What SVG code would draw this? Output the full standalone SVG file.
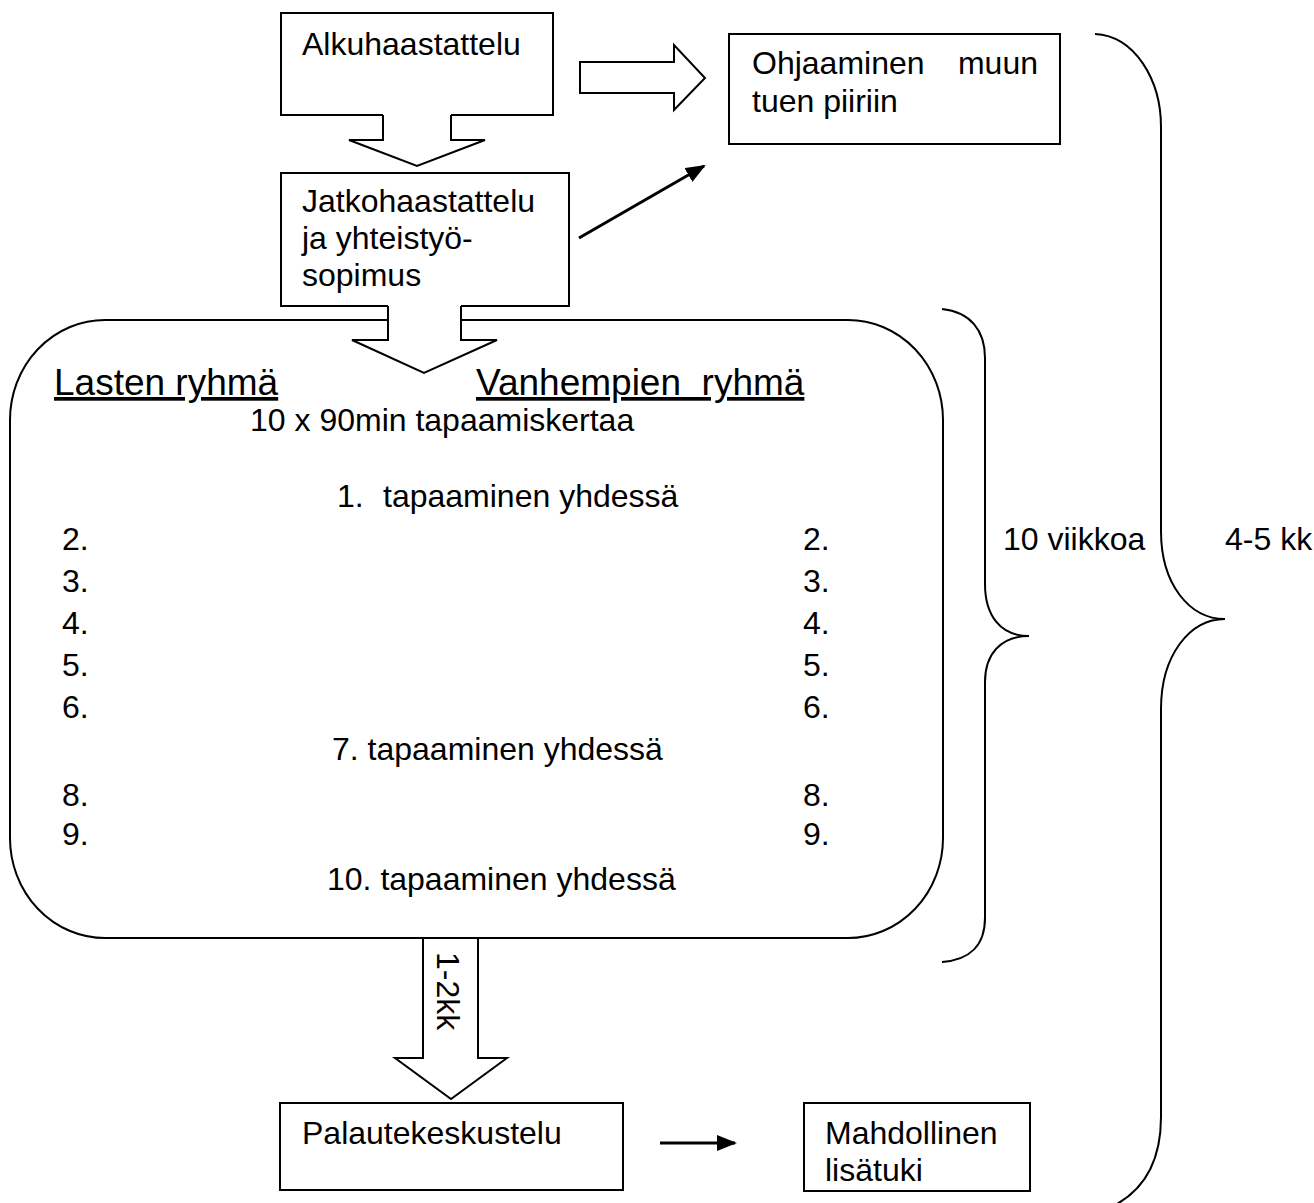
<svg xmlns="http://www.w3.org/2000/svg" width="1314" height="1203" viewBox="0 0 1314 1203">
<style>
text{font-family:"Liberation Sans",Arial,sans-serif;font-size:32px;fill:#000}
.big{font-size:37px;text-decoration:underline;white-space:pre}
.box{fill:#fff;stroke:#000;stroke-width:2}
.ln{fill:none;stroke:#000;stroke-width:2}
.arr{fill:none;stroke:#000;stroke-width:3}
.cover{fill:#fff;stroke:none}
</style>
<defs>
<marker id="ah" markerUnits="userSpaceOnUse" markerWidth="20" markerHeight="16" refX="18" refY="8" orient="auto">
<path d="M0,0 L20,8 L0,16 Z" fill="#000"/>
</marker>
</defs>
<rect width="1314" height="1203" fill="#fff"/>
<g id="alkuhaastattelu">
<rect class="box" x="281" y="13" width="272" height="102"/>
<text x="302" y="55">Alkuhaastattelu</text>
</g>
<g id="ohjaaminen">
<rect class="box" x="729" y="34" width="331" height="110"/>
<text x="752" y="74">Ohjaaminen</text>
<text x="1038" y="74" text-anchor="end">muun</text>
<text x="752" y="112">tuen piiriin</text>
</g>
<g id="jatkohaastattelu">
<rect class="box" x="281" y="173" width="288" height="133"/>
<text x="302" y="212">Jatkohaastattelu</text>
<text x="302" y="249">ja yhteistyö-</text>
<text x="302" y="286">sopimus</text>
</g>
<g id="ryhmat">
<rect class="box" x="10" y="320" width="933" height="618" rx="95" ry="100"/>
<text class="big" x="54" y="395">Lasten ryhmä</text>
<text class="big" x="476" y="395">Vanhempien  ryhmä</text>
<text x="250" y="431">10 x 90min tapaamiskertaa</text>
<text x="337" y="507">1.</text>
<text x="383" y="507">tapaaminen yhdessä</text>
<text x="62" y="550">2.</text><text x="803" y="550">2.</text>
<text x="62" y="592">3.</text><text x="803" y="592">3.</text>
<text x="62" y="634">4.</text><text x="803" y="634">4.</text>
<text x="62" y="676">5.</text><text x="803" y="676">5.</text>
<text x="62" y="718">6.</text><text x="803" y="718">6.</text>
<text x="332" y="760">7. tapaaminen yhdessä</text>
<text x="62" y="806">8.</text><text x="803" y="806">8.</text>
<text x="62" y="845">9.</text><text x="803" y="845">9.</text>
<text x="327" y="890">10. tapaaminen yhdessä</text>
</g>
<g id="palautekeskustelu">
<rect class="box" x="280" y="1103" width="343" height="87"/>
<text x="302" y="1144">Palautekeskustelu</text>
</g>
<g id="lisatuki">
<rect class="box" x="804" y="1103" width="226" height="88"/>
<text x="825" y="1144">Mahdollinen</text>
<text x="825" y="1181">lisätuki</text>
</g>
<g id="connectors">
<path class="cover" d="M383,112 V140 H349 L417,166 L485,140 H451 V112 Z"/>
<path class="ln" d="M383,115 V140 H349 L417,166 L485,140 H451 V115"/>
<path class="ln" d="M580,62 H674 V45 L705,78 L674,110 V93 H580 Z"/>
<line class="arr" x1="579" y1="238" x2="704" y2="166" marker-end="url(#ah)"/>
<path class="cover" d="M388,303 V340 H352 L424,373 L497,340 H461 V303 Z"/>
<path class="ln" d="M388,306 V340 H352 L424,373 L497,340 H461 V306"/>
<path class="box" d="M423,938 V1058 H395 L451,1099 L507,1058 H478 V938 Z"/>
<text x="437" y="952" transform="rotate(90 437 952)">1-2kk</text>
<line class="arr" x1="660" y1="1143" x2="735" y2="1143" marker-end="url(#ah)"/>
</g>
<g id="brace-10-viikkoa">
<path class="ln" d="M942,309 C970,312 985,330 985,358 V584 C985,615 1000,636 1029,636 C1000,636 985,655 985,682 V918 C985,945 970,960 942,962"/>
<text x="1003" y="550">10 viikkoa</text>
</g>
<g id="brace-4-5-kk">
<path class="ln" d="M1095,34 C1135,36 1161,80 1161,127 V531 C1161,585 1190,619 1225,619 C1190,619 1161,655 1161,709 V1117 C1161,1160 1145,1188 1117,1204"/>
<text x="1225" y="550">4-5 kk</text>
</g>
</svg>
